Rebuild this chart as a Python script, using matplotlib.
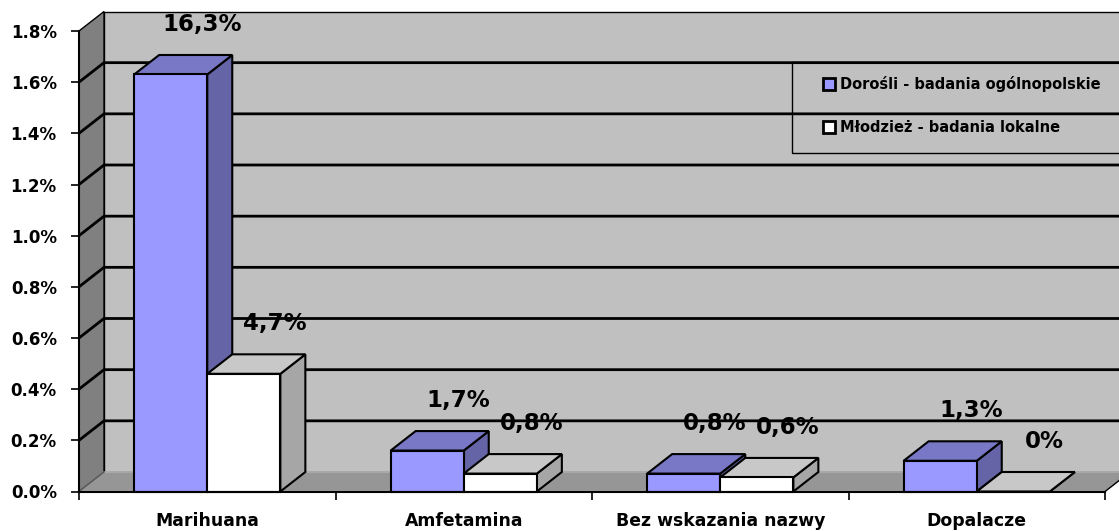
import matplotlib
matplotlib.use("Agg")
import matplotlib.pyplot as plt
from matplotlib.patches import Polygon, Patch, Rectangle

categories = ["Marihuana", "Amfetamina", "Bez wskazania nazwy", "Dopalacze"]
series_names = ["Dorośli - badania ogólnopolskie", "Młodzież - badania lokalne"]
adults = [1.63, 0.16, 0.07, 0.12]
youth = [0.46, 0.07, 0.055, 0.0]
adults_labels = ["16,3%", "1,7%", "0,8%", "1,3%"]
youth_labels = ["4,7%", "0,8%", "0,6%", "0%"]
y_ticks = [0.0, 0.2, 0.4, 0.6, 0.8, 1.0, 1.2, 1.4, 1.6, 1.8]

plt.rcParams['font.family'] = ['DejaVu Sans']
plt.rcParams['font.weight'] = 'bold'

W, H = 1119, 531
fig = plt.figure(figsize=(W / 100, H / 100), dpi=100)
ax = fig.add_axes([0, 0, 1, 1])

# plot geometry in pixels (front axis corner, top tick, depth of the 3d box)
x0_px, x1_px = 79, 1105
y0_px, ytop_px = 491.5, 31
ymax = y_ticks[-1]
n = len(categories)
sx = (x1_px - x0_px) / n
sy = (y0_px - ytop_px) / ymax
ax.set_xlim(-x0_px / sx, (W - x0_px) / sx)
ax.set_ylim(-(H - y0_px) / sy, y0_px / sy)
DX = 25 / sx
DY = 19.5 / sy

# walls and floor
back = Polygon([(DX, DY), (n + DX, DY), (n + DX, ymax + DY), (DX, ymax + DY)],
               closed=True, fc='#C0C0C0', ec='black', lw=1, zorder=1)
left = Polygon([(0, 0), (DX, DY), (DX, ymax + DY), (0, ymax)],
               closed=True, fc='#808080', ec='black', lw=1, zorder=1)
floor = Polygon([(0, 0), (n, 0), (n + DX, DY), (DX, DY)],
                closed=True, fc='#969696', ec='#B0B0B0', lw=1, zorder=1)
for p in (back, left, floor):
    ax.add_patch(p)

# gridlines on the left and back walls
for t in y_ticks[1:-1]:
    ax.plot([0, DX, n + DX], [t, t + DY, t + DY], color='black', lw=2,
            solid_capstyle='butt', zorder=2)
ax.plot([0, DX], [0, DY], color='#555555', lw=1, zorder=2)
ax.plot([n, n + DX], [0, DY], color='black', lw=1, zorder=2)

bar_w = 0.285
gap = (1 - 2 * bar_w) / 2
styles = [
    {'front': '#9999FF', 'top': '#7878C6', 'side': '#6464A6'},
    {'front': '#FFFFFF', 'top': '#C8C8C8', 'side': '#A6A6A6'},
]


def draw_box(x, h, st):
    side = [(x + bar_w, 0), (x + bar_w + DX, DY), (x + bar_w + DX, h + DY), (x + bar_w, h)]
    top = [(x, h), (x + bar_w, h), (x + bar_w + DX, h + DY), (x + DX, h + DY)]
    front = [(x, 0), (x + bar_w, 0), (x + bar_w, h), (x, h)]
    for pts, c in ((side, st['side']), (top, st['top']), (front, st['front'])):
        ax.add_patch(Polygon(pts, closed=True, fc=c, ec='black', lw=1.5,
                             joinstyle='miter', zorder=3))


for i in range(n):
    for j, (vals, labels) in enumerate(((adults, adults_labels), (youth, youth_labels))):
        x = i + gap + j * bar_w
        draw_box(x, vals[i], styles[j])
        ax.annotate(labels[i], (x + bar_w / 2, vals[i]), xytext=(31, 50),
                    textcoords='offset pixels', ha='center', va='center',
                    fontsize=16.5, fontweight='bold', zorder=5)

# axes
for s in ('top', 'right'):
    ax.spines[s].set_visible(False)
ax.spines['left'].set_position(('data', 0))
ax.spines['left'].set_bounds(0, ymax)
ax.spines['bottom'].set_position(('data', 0))
ax.spines['bottom'].set_bounds(0, n)
for s in ('left', 'bottom'):
    ax.spines[s].set_linewidth(1.5)
    ax.spines[s].set_zorder(4)

ax.set_yticks(y_ticks)
ax.set_yticklabels([f"{t:.1f}%" for t in y_ticks])
ax.tick_params(axis='y', direction='out', length=6, width=1.2, pad=10, labelsize=12)
ax.set_xticks(range(n + 1))
ax.set_xticklabels([])
ax.set_xticks([i + 0.5 for i in range(n)], categories, minor=True)
ax.tick_params(axis='x', which='major', direction='out', length=6, width=1.2)
ax.tick_params(axis='x', which='minor', length=0, pad=14.5, labelsize=12.4)

# legend box
fig.add_artist(Rectangle((792 / W, 1 - 153 / H), (1140 - 792) / W, 91 / H,
                         transform=fig.transFigure, fc='none', ec='black', lw=1, zorder=6))
handles = [Patch(fc=st['front'], ec='black', lw=2) for st in styles]
fig.legend(handles, series_names, loc='upper left',
           bbox_to_anchor=(823 / W, 1 - 76.3 / H), bbox_transform=fig.transFigure,
           frameon=False, fontsize=10.5, borderpad=0, borderaxespad=0,
           handlelength=0.82, handleheight=0.92, handletextpad=0.34, labelspacing=1.9)

fig.savefig("out.png", dpi=100)
